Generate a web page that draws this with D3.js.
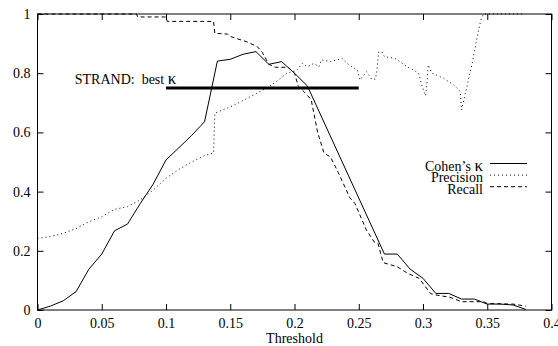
<!DOCTYPE html>
<html>
<head>
<meta charset="utf-8">
<script src="https://cdn.jsdelivr.net/npm/d3@7"></script>
<style>
  body { margin: 0; background: #fff; }
  text { font-family: "Liberation Serif", "Times New Roman", serif; font-size: 14px; fill: #000; }
</style>
</head>
<body>
<div id="chart-area"></div>
<script>
// values
var xTicks = [0, 0.05, 0.1, 0.15, 0.2, 0.25, 0.3, 0.35, 0.4];
var xTickLabels = ["0", "0.05", "0.1", "0.15", "0.2", "0.25", "0.3", "0.35", "0.4"];
var yTicks = [0, 0.2, 0.4, 0.6, 0.8, 1];
var yTickLabels = ["0", "0.2", "0.4", "0.6", "0.8", "1"];

var seriesNames = ["Cohen\u2019s ", "Precision", "Recall"];
var seriesSymbols = ["\u03ba", "", ""];

var kappa = [
  [0, 0], [0.01, 0.013], [0.02, 0.031], [0.03, 0.062], [0.04, 0.138], [0.05, 0.189],
  [0.06, 0.268], [0.07, 0.29], [0.08, 0.36], [0.09, 0.425], [0.10, 0.507], [0.11, 0.548],
  [0.12, 0.59], [0.13, 0.636], [0.14, 0.841], [0.15, 0.847], [0.16, 0.864], [0.17, 0.873],
  [0.18, 0.83], [0.19, 0.839], [0.20, 0.80], [0.21, 0.757], [0.27, 0.189], [0.28, 0.189],
  [0.29, 0.138], [0.30, 0.107], [0.31, 0.056], [0.32, 0.056], [0.33, 0.037], [0.34, 0.037],
  [0.35, 0.02], [0.36, 0.02], [0.37, 0.017], [0.38, 0.002]
];

var precision = [
  [0, 0.242], [0.01, 0.248], [0.02, 0.259], [0.03, 0.275], [0.04, 0.298], [0.05, 0.315],
  [0.06, 0.34], [0.07, 0.349], [0.08, 0.372], [0.09, 0.405], [0.10, 0.445], [0.11, 0.475],
  [0.12, 0.5], [0.13, 0.522], [0.137, 0.53], [0.138, 0.665], [0.152, 0.69], [0.168, 0.726],
  [0.18, 0.754], [0.1875, 0.777], [0.194, 0.8], [0.202, 0.81], [0.206, 0.833], [0.21, 0.822],
  [0.215, 0.833], [0.219, 0.822], [0.221, 0.845], [0.228, 0.839], [0.237, 0.85], [0.241, 0.833],
  [0.249, 0.81], [0.251, 0.777], [0.256, 0.805], [0.26, 0.78], [0.263, 0.78], [0.264, 0.805],
  [0.2655, 0.872], [0.268, 0.872], [0.27, 0.856], [0.278, 0.85], [0.282, 0.839], [0.2875, 0.822],
  [0.293, 0.81], [0.2966, 0.8], [0.299, 0.76], [0.302, 0.724], [0.303, 0.76], [0.304, 0.828],
  [0.307, 0.8], [0.316, 0.783], [0.324, 0.76], [0.329, 0.738], [0.33, 0.676], [0.333, 0.732],
  [0.338, 0.828], [0.342, 0.918], [0.345, 0.98], [0.347, 1.0], [0.378, 1.0]
];

var recall = [
  [0, 1], [0.077, 1], [0.078, 0.99], [0.100, 0.99], [0.101, 0.975], [0.137, 0.975],
  [0.138, 0.935], [0.148, 0.932], [0.15, 0.924], [0.163, 0.906], [0.171, 0.89], [0.175, 0.87],
  [0.18, 0.83], [0.185, 0.82], [0.195, 0.82], [0.2, 0.8], [0.203, 0.755], [0.208, 0.735],
  [0.213, 0.71], [0.218, 0.6], [0.223, 0.53], [0.228, 0.517], [0.234, 0.465], [0.243, 0.38],
  [0.247, 0.36], [0.256, 0.27], [0.262, 0.23], [0.265, 0.225], [0.269, 0.16], [0.28, 0.146],
  [0.288, 0.124], [0.297, 0.107], [0.306, 0.055], [0.311, 0.05], [0.321, 0.043], [0.33, 0.028],
  [0.347, 0.028], [0.35, 0.022], [0.37, 0.02], [0.38, 0.013]
];

// best kappa reference line
var bestKappa = { label: "STRAND:  best ", symbol: "\u03ba", value: 0.75, from: 0.1, to: 0.25 };

var margin = {top: 14, right: 6.5, bottom: 36, left: 37.5};
var width = 558 - margin.left - margin.right;
var height = 346 - margin.top - margin.bottom;

var svg = d3.select("#chart-area").append("svg")
    .attr("width", 558)
    .attr("height", 346);

var g = svg.append("g")
    .attr("transform", "translate(" + margin.left + "," + margin.top + ")");

var x = d3.scaleLinear().domain([0, 0.4]).range([0, width]);
var y = d3.scaleLinear().domain([0, 1]).range([height, 0]);

// axes with inward ticks on all four sides
var bottomAxis = d3.axisBottom(x).tickValues(xTicks)
    .tickFormat((d, i) => xTickLabels[i]).tickSizeInner(-6).tickSizeOuter(0).tickPadding(8);
var leftAxis = d3.axisLeft(y).tickValues(yTicks)
    .tickFormat((d, i) => yTickLabels[i]).tickSizeInner(-6).tickSizeOuter(0).tickPadding(7);
var topAxis = d3.axisTop(x).tickValues(xTicks).tickFormat("").tickSizeInner(-6).tickSizeOuter(0);
var rightAxis = d3.axisRight(y).tickValues(yTicks).tickFormat("").tickSizeInner(-6).tickSizeOuter(0);

function styleAxis(sel) {
    sel.select(".domain").remove();
    sel.selectAll("line").attr("stroke", "#000");
    sel.selectAll("text").attr("font-family", null).attr("font-size", null).attr("fill", null);
}

g.append("g").attr("transform", "translate(0," + height + ")").call(bottomAxis).call(styleAxis);
g.append("g").call(leftAxis).call(styleAxis);
g.append("g").call(topAxis).call(styleAxis);
g.append("g").attr("transform", "translate(" + width + ",0)").call(rightAxis).call(styleAxis);

g.append("rect")
    .attr("width", width).attr("height", height)
    .attr("fill", "none").attr("stroke", "#000").attr("stroke-width", 1);

var line = d3.line().x(d => x(d[0])).y(d => y(d[1]));
var styles = [
    {dash: null},
    {dash: "1,3"},
    {dash: "4,3"}
];
var series = [kappa, precision, recall];

series.forEach((s, i) => {
    g.append("path")
        .attr("d", line(s))
        .attr("fill", "none")
        .attr("stroke", "#000")
        .attr("stroke-width", 1)
        .attr("stroke-dasharray", styles[i].dash);
});

// best kappa line and its label
g.append("line")
    .attr("x1", x(bestKappa.from)).attr("x2", x(bestKappa.to))
    .attr("y1", y(bestKappa.value)).attr("y2", y(bestKappa.value))
    .attr("stroke", "#000").attr("stroke-width", 3);
var lbl = g.append("text")
    .attr("x", x(0.029))
    .attr("y", y(0.765))
    .style("white-space", "pre");
lbl.append("tspan").text(bestKappa.label);
lbl.append("tspan").attr("font-size", "17px").text(bestKappa.symbol);

// legend
var legend = g.append("g").attr("transform", "translate(" + (483 - margin.left) + "," + (170.5 - margin.top) + ")");
seriesNames.forEach((name, i) => {
    var t = legend.append("text")
        .attr("x", 0).attr("y", i * 11.6)
        .attr("text-anchor", "end")
        .style("white-space", "pre");
    t.append("tspan").text(name);
    if (seriesSymbols[i]) {
        t.append("tspan").attr("font-size", "17px").text(seriesSymbols[i]);
    }
    legend.append("line")
        .attr("x1", 7).attr("x2", 44)
        .attr("y1", i * 11.6 - 7).attr("y2", i * 11.6 - 7)
        .attr("stroke", "#000").attr("stroke-width", 1)
        .attr("stroke-dasharray", styles[i].dash);
});

g.append("text")
    .attr("x", width / 2)
    .attr("y", height + 33)
    .attr("text-anchor", "middle")
    .attr("font-size", "13px")
    .text("Threshold");
</script>
</body>
</html>
